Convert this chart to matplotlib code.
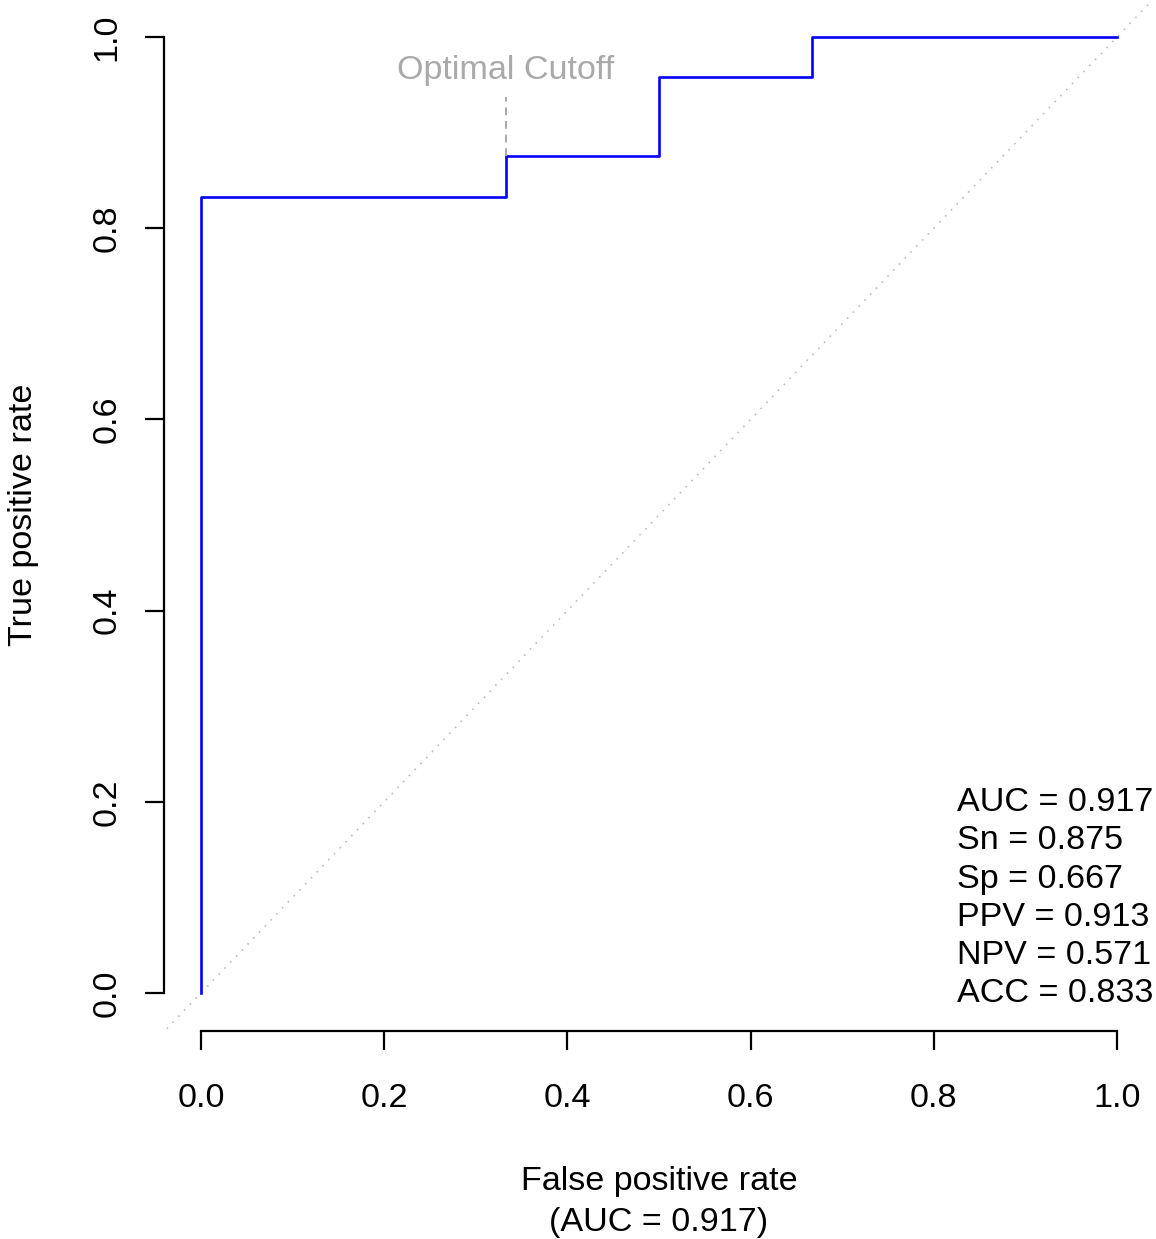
import matplotlib
matplotlib.use("Agg")
import matplotlib.pyplot as plt

plt.rcParams["font.family"] = ["Liberation Sans", "DejaVu Sans"]

# ROC curve points (step curve)
fpr = [0.0, 0.0, 0.333, 0.333, 0.5, 0.5, 0.667, 0.667, 1.0]
tpr = [0.0, 0.833, 0.833, 0.875, 0.875, 0.958, 0.958, 1.0, 1.0]

cutoff_fpr = 0.333
cutoff_tpr = 0.875

stat_names = ["AUC", "Sn", "Sp", "PPV", "NPV", "ACC"]
stat_values = [0.917, 0.875, 0.667, 0.913, 0.571, 0.833]

ticks = [0.0, 0.2, 0.4, 0.6, 0.8, 1.0]
tick_labels = ["0.0", "0.2", "0.4", "0.6", "0.8", "1.0"]

FS = 24.6

fig = plt.figure(figsize=(11.56, 12.39), dpi=100)
ax = fig.add_axes([0.1422, 0.1677, 0.8558, 0.8333])
ax.set_xlim(-0.04, 1.04)
ax.set_ylim(-0.04, 1.04)

# chance diagonal
ax.plot([-0.05, 1.05], [-0.05, 1.05], color="#BEBEBE", lw=1.2, ls=(0, (1, 4)))

# ROC curve
ax.plot(fpr, tpr, color="#0000FF", lw=1.9)

# optimal cutoff marker
ax.plot([cutoff_fpr, cutoff_fpr], [cutoff_tpr, 0.937], color="#A9A9A9",
        lw=1.4, ls=(0, (4, 3)))
ax.text(cutoff_fpr, 0.965, "Optimal Cutoff", color="#A9A9A9", fontsize=FS,
        ha="center", va="center")

# stats block
for i, (n, v) in enumerate(zip(stat_names, stat_values)):
    ax.text(0.825, 0.199 - 0.04 * i, "%s = %.3f" % (n, v), fontsize=FS,
            ha="left", va="center")

for s in ["top", "right"]:
    ax.spines[s].set_visible(False)
ax.spines["bottom"].set_bounds(0, 1)
ax.spines["left"].set_bounds(0, 1)
for s in ["bottom", "left"]:
    ax.spines[s].set_linewidth(1.6)

ax.set_xticks(ticks)
ax.set_xticklabels(tick_labels, fontsize=FS)
ax.set_yticks(ticks)
ax.set_yticklabels(tick_labels, fontsize=FS, rotation=90, va="center")
ax.tick_params(axis="x", length=14, width=1.6, pad=23)
ax.tick_params(axis="y", length=14, width=1.6, pad=16)

ax.set_xlabel("False positive rate\n(AUC = 0.917)", fontsize=FS, labelpad=38,
              linespacing=1.38)
ax.set_ylabel("True positive rate", fontsize=FS, labelpad=38)

fig.savefig("out.png", dpi=100)
